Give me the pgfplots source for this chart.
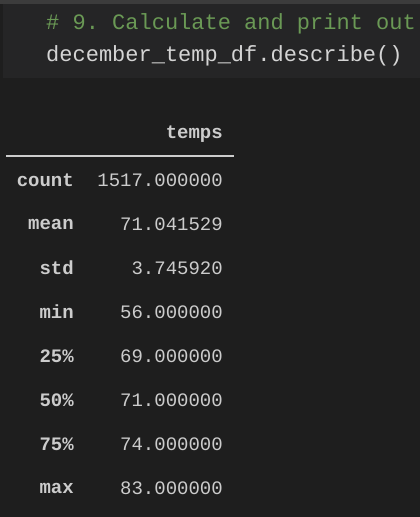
\documentclass[border=0pt]{standalone}
\usepackage{pgfplots}
\pgfplotsset{compat=1.18}
\usepackage{fontspec}
\setmonofont{Liberation Mono}
\definecolor{bgmain}{HTML}{1E1E1E}
\definecolor{bgcode}{HTML}{252526}
\definecolor{topbar}{HTML}{3C3C3C}
\definecolor{cmt}{HTML}{6A9955}
\definecolor{txt}{HTML}{D4D4D4}
\definecolor{tbl}{HTML}{CCCCCC}
\begin{document}
\begin{tikzpicture}
\begin{axis}[width=420pt,height=517pt,scale only axis,
  xmin=0,xmax=420,ymin=0,ymax=517,y dir=reverse,hide axis,clip=false]
\fill[bgmain] (axis cs:0,0) rectangle (axis cs:420,517);
\fill[topbar] (axis cs:0,0) rectangle (axis cs:420,4);
\fill[bgcode] (axis cs:3,4) rectangle (axis cs:420,78);
\node[anchor=west,inner sep=0,text=cmt,font=\fontsize{22}{22}\selectfont\ttfamily] at (axis cs:46,24) {\# 9. Calculate and print out};
\node[anchor=west,inner sep=0,text=txt,font=\fontsize{22}{22}\selectfont\ttfamily] at (axis cs:46,56) {december\_temp\_df.describe()};
\node[anchor=east,inner sep=0,text=tbl,font=\fontsize{19}{19}\selectfont\ttfamily\bfseries] at (axis cs:223,134) {temps};
\draw[tbl,line width=1.2pt] (axis cs:6,156) -- (axis cs:234,156);
\addplot[only marks,mark=none,point meta=explicit symbolic,nodes near coords,
  nodes near coords style={anchor=east,inner sep=0,text=tbl,font=\fontsize{19}{19}\selectfont\ttfamily}]
  table[meta=v] {
x y v
223 180 1517.000000
223 224 71.041529
223 268 3.745920
223 312 56.000000
223 356 69.000000
223 400 71.000000
223 444 74.000000
223 488 83.000000
};
\addplot[only marks,mark=none,point meta=explicit symbolic,nodes near coords,
  nodes near coords style={anchor=east,inner sep=0,text=tbl,font=\fontsize{19}{19}\selectfont\ttfamily\bfseries}]
  table[meta=v] {
x y v
74 180 count
74 224 mean
74 268 std
74 312 min
74 356 25\%
74 400 50\%
74 444 75\%
74 488 max
};
\end{axis}
\end{tikzpicture}
\end{document}
